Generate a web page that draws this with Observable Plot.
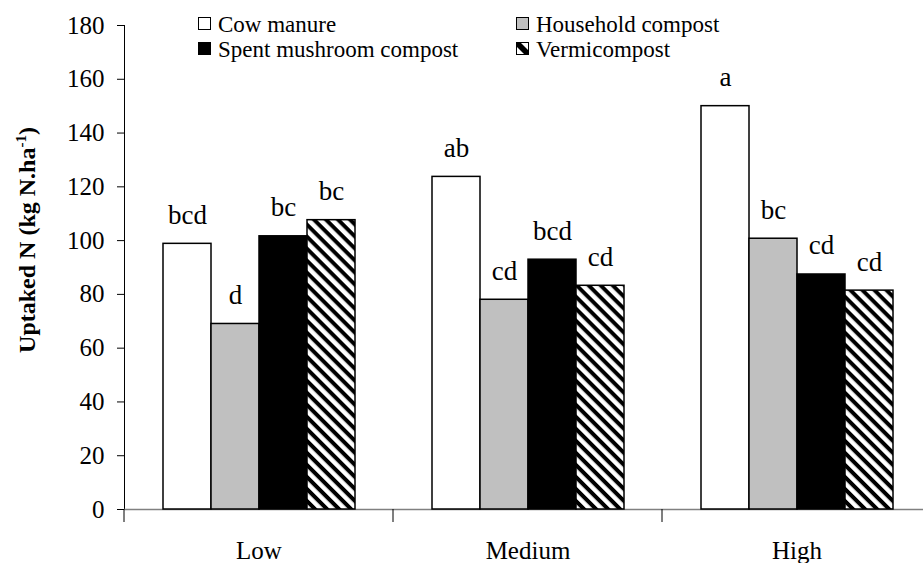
<!DOCTYPE html>
<html><head><meta charset="utf-8">
<script src="https://cdn.jsdelivr.net/npm/d3@7"></script>
<script src="https://cdn.jsdelivr.net/npm/@observablehq/plot@0.6"></script>
<style>
body{margin:0;background:#fff;}
#wrap{position:relative;width:923px;height:563px;overflow:hidden;font-family:"Liberation Serif",Tinos,"Times New Roman",Times,"DejaVu Serif",serif;background:#fff;}
#wrap svg{position:absolute;left:0;top:0;}
.leg{position:absolute;font-size:23px;line-height:23px;white-space:nowrap;color:#000;}
.sw{position:absolute;width:11px;height:11px;border:1px solid #000;}
.sw svg{position:absolute;left:0;top:0;}
#ylab{position:absolute;left:27px;top:240px;transform:translate(-50%,-50%) rotate(-90deg);font-weight:bold;font-size:24px;white-space:nowrap;line-height:1;}
#ylab sup{font-size:15px;line-height:0;}
</style></head><body><div id="wrap"></div>
<script>
const levels = ["Low", "Medium", "High"];
const types = ["Cow manure", "Household compost", "Spent mushroom compost", "Vermicompost"];
const cowManure = [98.8, 123.7, 150.0];
const householdCompost = [69.0, 78.0, 100.7];
const spentMushroom = [101.6, 92.9, 87.4];
const vermicompost = [107.6, 83.2, 81.4];
const cowLetters = ["bcd", "ab", "a"];
const householdLetters = ["d", "cd", "bc"];
const spentLetters = ["bc", "bcd", "cd"];
const vermLetters = ["bc", "cd", "cd"];
const yTicks = [0, 20, 40, 60, 80, 100, 120, 140, 160, 180];

const fills = ["white", "#c0c0c0", "black", "url(#hatch)"];
const seriesValues = [cowManure, householdCompost, spentMushroom, vermicompost];
const seriesLetters = [cowLetters, householdLetters, spentLetters, vermLetters];
const table = [];
levels.forEach((level, i) => types.forEach((type, j) => {
  table.push({level, type, value: seriesValues[j][i], letter: seriesLetters[j][i]});
}));

const serif = '"Liberation Serif", Tinos, "Times New Roman", Times, "DejaVu Serif", serif';
const chart = Plot.plot({
  width: 923, height: 563,
  marginLeft: 123, marginRight: 0, marginTop: 25, marginBottom: 54,
  style: {fontFamily: serif, fontSize: "25px", color: "black", background: "transparent"},
  fx: {domain: levels, range: [123, 931], padding: 0, label: null, tickSize: 0, tickPadding: 32},
  x: {domain: types, paddingInner: 0, paddingOuter: 0.75, axis: null},
  y: {domain: [0, 180], ticks: yTicks, tickSize: 7, tickPadding: 13, label: null, line: true},
  color: {type: "ordinal", domain: types, range: fills},
  marks: [
    Plot.ruleY([0], {stroke: "#808080", strokeWidth: 1.5}),
    Plot.barY(table, {fx: "level", x: "type", y: "value", fill: "type", stroke: "black", strokeWidth: 1.5}),
    Plot.text(table, {fx: "level", x: "type", y: "value", text: "letter", lineAnchor: "bottom", dy: -20, fontSize: 27, fill: "black"})
  ]
});
d3.select(chart).selectAll("text").style("font-family", serif);

d3.select(chart).insert("defs", ":first-child").html(
  '<pattern id="hatch" patternUnits="userSpaceOnUse" width="8.5" height="8.5" patternTransform="rotate(45)">' +
  '<rect width="8.5" height="8.5" fill="white"/><rect width="8.5" height="4" fill="black"/></pattern>');

// category boundary ticks from the fx scale
const fxs = chart.scale("fx");
const ys = chart.scale("y");
const y0 = ys.apply(0);
const bounds = levels.map(l => fxs.apply(l)).concat([fxs.apply(levels[levels.length - 1]) + fxs.bandwidth]);
d3.select(chart).append("g").selectAll("line").data(bounds).join("line")
  .attr("x1", d => d).attr("x2", d => d).attr("y1", y0).attr("y2", y0 + 13)
  .attr("stroke", "black").attr("stroke-width", 1);

const wrap = document.getElementById("wrap");
wrap.appendChild(chart);

// y label
const yl = document.createElement("div");
yl.id = "ylab";
yl.innerHTML = "Uptaked N (kg N.ha<sup>-1</sup>)";
wrap.appendChild(yl);

// legend
const legPos = [[198, 17], [516, 17], [198, 42], [516, 42]];
types.forEach((t, j) => {
  const [lx, ly] = legPos[j];
  const sw = document.createElement("div");
  sw.className = "sw";
  sw.style.left = lx + "px"; sw.style.top = ly + "px";
  if (j === 3) {
    sw.style.background = "white";
    sw.innerHTML = '<svg width="11" height="11"><polygon points="0,0 4,0 11,7 11,11 7,11 0,4" fill="black"/></svg>';
  } else {
    sw.style.background = fills[j];
  }
  wrap.appendChild(sw);
  const lab = document.createElement("div");
  lab.className = "leg";
  lab.style.left = (lx + 20) + "px"; lab.style.top = (ly - 4) + "px";
  lab.textContent = t;
  wrap.appendChild(lab);
});
</script></body></html>
